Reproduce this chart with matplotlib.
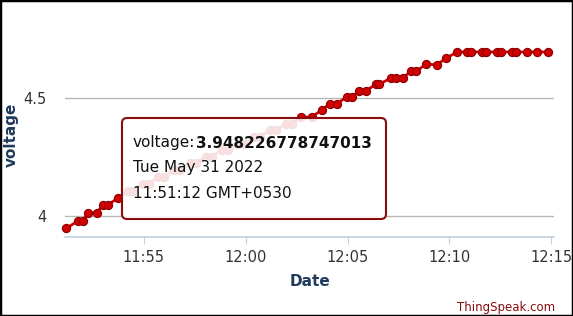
import datetime as dt

import matplotlib
matplotlib.use("Agg")
import matplotlib.pyplot as plt
import matplotlib.dates as mdates
from matplotlib.patches import FancyBboxPatch, Rectangle

# ── data ─────────────────────────────────────────────────────────────────────
DAY = "2022-05-31"

times = [
    "11:51:12", "11:51:46", "11:52:01", "11:52:15", "11:52:42", "11:52:59",
    "11:53:14", "11:53:44", "11:54:13", "11:54:28", "11:54:57", "11:55:15",
    "11:55:41", "11:55:59", "11:56:28", "11:56:46", "11:57:15", "11:57:33",
    "11:58:02", "11:58:20", "11:58:49", "11:59:07", "11:59:36", "11:59:54",
    "12:00:24", "12:00:41", "12:01:11", "12:01:28", "12:01:58", "12:02:15",
    "12:02:42", "12:03:14", "12:03:44", "12:04:07", "12:04:28", "12:04:57",
    "12:05:12", "12:05:35", "12:05:53", "12:06:25", "12:06:34", "12:07:09",
    "12:07:24", "12:07:42", "12:08:08", "12:08:23", "12:08:52", "12:09:22",
    "12:09:51", "12:10:23", "12:10:53", "12:11:05", "12:11:37", "12:11:49",
    "12:12:21", "12:12:33", "12:13:05", "12:13:17", "12:13:49", "12:14:19",
    "12:14:51",
]

voltage = [
    3.948, 3.979, 3.979, 4.013, 4.013, 4.047,
    4.047, 4.076, 4.106, 4.106, 4.136, 4.136,
    4.165, 4.165, 4.195, 4.195, 4.225, 4.225,
    4.250, 4.250, 4.280, 4.280, 4.305, 4.305,
    4.335, 4.335, 4.364, 4.364, 4.390, 4.390,
    4.419, 4.419, 4.449, 4.475, 4.475, 4.504,
    4.504, 4.530, 4.530, 4.559, 4.559, 4.585,
    4.585, 4.585, 4.614, 4.614, 4.644, 4.640,
    4.669, 4.695, 4.695, 4.695, 4.695, 4.695,
    4.695, 4.695, 4.695, 4.695, 4.695, 4.695,
    4.695,
]

y_ticks = [4.0, 4.5]
y_tick_labels = ["4", "4.5"]

tooltip_name = "voltage:"
tooltip_value = "3.948226778747013"
tooltip_date = "Tue May 31 2022"
tooltip_time = "11:51:12 GMT+0530"

x_start, x_end = "11:51:08", "12:15:08"
y_min, y_max = 3.911, 4.894

RED = "#d40000"
DARK_RED = "#8a0c0c"
NAVY = "#1f3a5c"


def to_dt(hms):
    return dt.datetime.strptime(f"{DAY} {hms}", "%Y-%m-%d %H:%M:%S")


x = [to_dt(t) for t in times]

W, H = 573, 316
fig = plt.figure(figsize=(W / 100, H / 100), dpi=100)
ax = fig.add_axes([65 / W, 1 - 237 / H, (554 - 65) / W, (237 - 5) / H])

ax.plot(x, voltage, color=RED, lw=2, marker="o", ms=5.8,
        mfc=RED, mec="#900000", mew=0.9, clip_on=False, zorder=3)

ax.set_xlim(to_dt(x_start), to_dt(x_end))
ax.set_ylim(y_min, y_max)

ax.xaxis.set_major_locator(mdates.MinuteLocator(byminute=range(0, 60, 5)))
ax.xaxis.set_major_formatter(mdates.DateFormatter("%H:%M"))
ax.set_yticks(y_ticks)
ax.set_yticklabels(y_tick_labels)

ax.grid(axis="y", color="#b8b8b8", lw=1)
ax.set_axisbelow(True)
for side in ("top", "right", "left"):
    ax.spines[side].set_visible(False)
ax.spines["bottom"].set_color("#c0d0e0")
ax.spines["bottom"].set_linewidth(1.2)
ax.tick_params(axis="x", direction="out", length=5, color="#c0d0e0",
               labelsize=10.5, labelcolor="#333333", pad=4)
ax.tick_params(axis="y", length=0, labelsize=10.5, labelcolor="#333333", pad=13)

fig.text(11 / W, 1 - 135 / H, "voltage", rotation=90, ha="center", va="center",
         fontsize=11, fontweight="bold", color=NAVY)
fig.text(310 / W, 1 - 282 / H, "Date", ha="center", va="center",
         fontsize=11, fontweight="bold", color=NAVY)
fig.text(555 / W, 1 - 307 / H, "ThingSpeak.com", ha="right", va="center",
         fontsize=8.5, color=DARK_RED)

# ── tooltip ──────────────────────────────────────────────────────────────────
box = FancyBboxPatch((122 / 100, (H - 219) / 100), 264 / 100, 101 / 100,
                     boxstyle="round,pad=0,rounding_size=0.05",
                     transform=fig.dpi_scale_trans, fc="white", alpha=0.88,
                     ec="none", zorder=10)
fig.add_artist(box)
edge = FancyBboxPatch((122 / 100, (H - 219) / 100), 264 / 100, 101 / 100,
                      boxstyle="round,pad=0,rounding_size=0.05",
                      transform=fig.dpi_scale_trans, fc="none",
                      ec=DARK_RED, lw=1.5, zorder=11)
fig.add_artist(edge)

fig.text(133 / W, 1 - 143 / H, tooltip_name, ha="left", va="center",
         fontsize=11, color="#111111", zorder=12)
fig.text(196 / W, 1 - 143 / H, tooltip_value, ha="left", va="center",
         fontsize=11, fontweight="bold", color="#111111", zorder=12)
fig.text(133 / W, 1 - 168 / H, tooltip_date, ha="left", va="center",
         fontsize=11, color="#111111", zorder=12)
fig.text(133 / W, 1 - 193 / H, tooltip_time, ha="left", va="center",
         fontsize=11, color="#111111", zorder=12)

# outer frame
fig.add_artist(Rectangle((0, 0), 1, 1, transform=fig.transFigure, fill=False,
                         ec="black", lw=2.5, zorder=20))

fig.savefig("out.png", dpi=100)
